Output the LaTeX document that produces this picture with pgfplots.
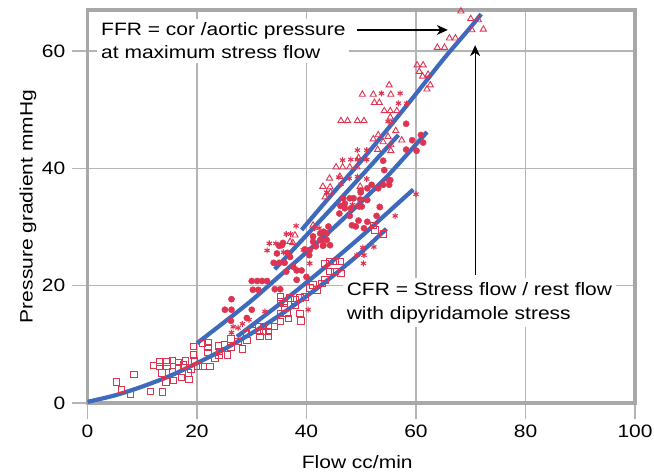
\documentclass[border=0pt]{standalone}
\usepackage{fontspec}
\setmainfont{Liberation Sans}[FakeStretch=1.17]
\usepackage{pgfplots}
\pgfplotsset{compat=1.18}
\usetikzlibrary{arrows.meta}
\definecolor{mred}{RGB}{221,52,82}
\definecolor{mblue}{RGB}{61,106,188}
\definecolor{fgray}{RGB}{168,168,170}
\definecolor{ggray}{RGB}{180,180,180}
\begin{document}
\fontsize{18}{22.5}\selectfont
\begin{tikzpicture}
\begin{axis}[name=ax, at={(0,0)}, anchor=south west,
  scale only axis, width=547.5bp, height=393bp,
  xmin=0, xmax=100, ymin=0, ymax=67,
  xtick={0,20,40,60,80,100}, ytick={0,20,40,60},
  grid=major, major grid style={draw=ggray, line width=1.2bp},
  axis line style={draw=fgray, line width=3.5bp, line cap=rect},
  tick pos=left, tick align=outside, major tick length=16bp,
  tick style={draw=ggray, line width=1.2bp},
  /pgf/number format/assume math mode=true,
  xlabel={Flow cc/min}, ylabel={Pressure gradient mmHg},
  every axis x label/.style={at={(axis description cs:0.5,0)}, anchor=north, yshift=-46bp, xshift=-4bp},
  every axis y label/.style={at={(axis description cs:-0.082,0.5)}, rotate=90, anchor=south},
  clip=true]
% open squares
\addplot[only marks, mark=square, draw=mred, mark size=3.2bp, line width=0.9bp] coordinates {
(5.3,3.6)(6.2,2.3)(7.8,1.5)(8.5,4.9)(11.5,2.0)(13.7,1.9)(14.3,3.6)(12.0,6.4)(13.1,7.0)(13.1,6.2)
(13.6,5.1)(14.5,7.0)(14.5,6.2)(15.5,7.3)(15.5,5.3)(15.7,3.8)(16.6,6.9)(16.6,6.0)(17.5,6.5)(17.2,4.4)
(17.9,7.2)(18.4,5.1)(18.5,4.0)(18.9,5.7)(19.3,9.6)(19.3,8.2)(19.5,7.2)(20.2,6.3)(21.1,6.2)(21.0,10.2)
(22.0,10.3)(22.0,9.5)(22.0,8.6)(22.4,6.2)(23.3,7.6)(23.9,9.7)(24.0,8.1)(25.0,10.0)(25.6,8.2)(26.2,10.9)
(26.2,9.5)(24.1,8.8)(28.3,9.2)(27.5,10.5)(29.1,10.7)(29.0,11.8)(30.0,12.4)(31.2,13.1)(31.4,12.2)(32.1,13.1)
(32.1,12.2)(33.0,13.1)(33.0,12.2)(33.0,11.3)(31.5,11.3)(34.2,13.0)(35.2,18.1)(35.2,17.2)(35.9,17.0)(36.0,16.2)
(35.2,15.3)(36.4,15.3)(35.2,13.9)(36.7,14.4)(37.0,17.9)(37.9,17.6)(37.9,16.7)(38.8,17.9)(39.7,18.1)(38.8,15.3)
(39.0,14.0)(40.6,19.6)(41.2,20.1)(41.9,19.3)(42.8,20.4)(43.4,21.0)(43.4,23.8)(44.3,24.1)(45.2,24.1)(46.1,24.1)
(44.3,22.4)(45.2,22.4)(46.3,22.1)(52.2,30.3)(52.5,29.5)(54.0,28.8)
};
% filled circles
\addplot[only marks, mark=*, mred, mark size=3.1bp] coordinates {
(26.3,17.7)(25.1,15.9)(26.3,15.9)(26.2,14.0)(29.1,14.5)(30.0,15.9)(30.0,20.8)(31.0,20.8)(31.9,20.8)(32.8,20.8)
(30.2,19.3)(31.2,19.3)(34.0,23.9)(35.0,23.9)(36.0,23.9)(34.6,25.5)(35.0,26.8)(35.7,27.3)(36.5,25.6)(35.2,19.4)
(34.2,19.4)(36.3,22.4)(37.6,23.2)(38.2,22.6)(39.1,22.6)(38.2,21.0)(40.0,21.5)(40.5,25.2)(41.7,26.7)(42.8,27.8)
(43.1,26.9)(43.7,28.9)(35.5,26.9)(37.0,24.9)(39.7,26.2)(40.6,26.1)(43.0,26.8)(44.3,26.9)(41.2,28.4)(41.2,27.5)
(42.5,28.9)(43.1,29.2)(44.0,30.1)(43.7,27.8)(42.5,27.8)(46.0,32.3)(46.2,33.6)(47.0,34.0)(47.0,33.2)(48.1,33.2)
(47.9,34.9)(48.6,34.9)(49.8,34.7)(49.9,36.2)(50.1,33.5)(51.1,34.6)(51.1,36.6)(51.9,37.2)(53.1,36.6)(54.0,37.2)
(55.1,37.2)(55.3,38.0)(54.2,39.7)(54.0,41.3)(58.2,47.6)(59.3,44.8)(60.9,45.7)(61.3,44.4)(58.2,43.2)(60.1,43.0)
(53.4,33.4)(52.8,31.9)(51.1,30.9)(49.5,31.1)(48.3,30.3)(49.0,30.1)(50.5,29.8)(47.9,31.9)(49.6,33.5)(46.7,34.9)
(55.1,37.9)(49.9,35.9)
};
% asterisks
\addplot[only marks, mark=asterisk, draw=mred, mark size=3.0bp, line width=1.1bp] coordinates {
(26.6,13.0)(27.5,12.8)(26.3,12.0)(32.4,15.6)(33.2,27.2)(34.4,27.2)(32.8,26.0)(35.8,25.7)(36.3,28.8)(37.1,28.8)
(38.1,30.2)(39.4,26.1)(40.6,23.8)(40.3,15.9)(41.5,29.8)(42.3,29.8)(43.7,35.9)(46.3,37.3)(46.6,41.4)(48.1,41.5)
(49.3,41.5)(51.0,41.5)(49.3,43.1)(51.0,43.1)(48.4,33.8)(51.0,38.2)(53.3,33.5)(56.2,31.9)(60.0,35.6)(50.3,26.5)
(52.3,26.6)(49.2,25.2)(50.5,25.2)(50.4,23.8)(53.7,52.8)(57.1,52.8)(56.8,51.1)(58.3,51.1)(54.9,48.0)(55.5,47.7)
(45.9,38.5)(47.8,38.3)(49.3,38.6)(29.5,14.2)(28.3,13.5)
};
% open triangles
\addplot[only marks, mark=triangle, draw=mred, mark size=3.6bp, line width=0.9bp] coordinates {
(37.5,27.3)(37.9,28.6)(37.0,27.5)(41.2,30.3)(43.4,35.1)(44.4,35.9)(43.0,36.9)(44.3,36.8)(44.2,38.3)(46.1,38.6)
(49.8,36.9)(45.4,40.2)(46.6,40.2)(47.9,40.2)(49.2,40.2)(49.5,41.8)(46.3,48.1)(47.5,48.1)(49.3,48.1)(50.5,48.1)
(52.2,45.0)(53.1,45.7)(54.9,45.4)(55.4,44.0)(53.0,43.2)(54.0,44.5)(55.4,43.0)(56.3,46.4)(57.4,44.8)(55.3,48.7)
(54.2,49.8)(55.3,49.8)(56.5,49.8)(52.4,51.2)(53.3,51.2)(50.2,52.6)(52.2,52.6)(55.4,52.6)(55.1,54.2)(60.2,57.6)
(61.3,57.6)(60.6,56.5)(61.2,55.7)(62.2,56.0)(62.6,54.2)(62.0,53.5)(63.9,60.6)(65.2,60.6)(66.1,62.2)(67.2,62.2)
(70.2,63.6)(72.3,63.7)(70.0,65.5)(71.4,65.3)(68.2,66.8)
};
% fitted lines
\addplot[mblue, line width=4.2bp, smooth] coordinates {
(0,0.2)(5,1.3)(10,2.8)(15,4.6)(20,6.8)(25,9.2)(30,11.9)(35,14.9)(40,18.2)(45,21.8)(50,25.7)(54.6,29.7)};
\addplot[mblue, line width=4.2bp, smooth] coordinates {
(27.3,11.3)(35,16.8)(40.6,21.0)(45,24.4)(50,28.4)(55,32.6)(59.5,36.4)};
\addplot[mblue, line width=4.2bp, smooth] coordinates {
(20,10.2)(25,13.8)(30,17.5)(35,21.6)(40,25.7)(45,29.9)(50,34.3)(55,38.9)(62,46.2)};
\addplot[mblue, line width=4.2bp, smooth] coordinates {
(34.2,22.8)(40,28.6)(45,33.6)(50,38.7)(56.8,45.7)};
\addplot[mblue, line width=4.2bp, smooth] coordinates {
(39.1,29.5)(44.3,35.2)(50,41.3)(55,46.9)(60,52.7)(65,58.6)(70,64.1)(71.9,66.3)};
% annotations
\node[fill=white, inner sep=4bp, anchor=north west, align=left] at (axis cs:1.74,65.5)
  {FFR = cor /aortic pressure\\at maximum stress flow};
\draw[-{Stealth[length=11bp,width=10bp]}, line width=1.2bp] (axis cs:49.3,63.6) -- (axis cs:65.8,63.6);
\draw[-{Stealth[length=11bp,width=10bp]}, line width=1.2bp] (axis cs:70.8,21.8) -- (axis cs:70.8,61.0);
\node[fill=white, inner sep=4bp, anchor=north west, align=left] at (axis cs:46.6,21.3)
  {CFR = Stress flow / rest flow\\[2bp]with dipyridamole stress};
\end{axis}
\pgfresetboundingbox
\path[use as bounding box] ([xshift=-87.5bp,yshift=-73bp]ax.south west) rectangle ([xshift=19bp,yshift=10bp]ax.north east);
\end{tikzpicture}
\end{document}
